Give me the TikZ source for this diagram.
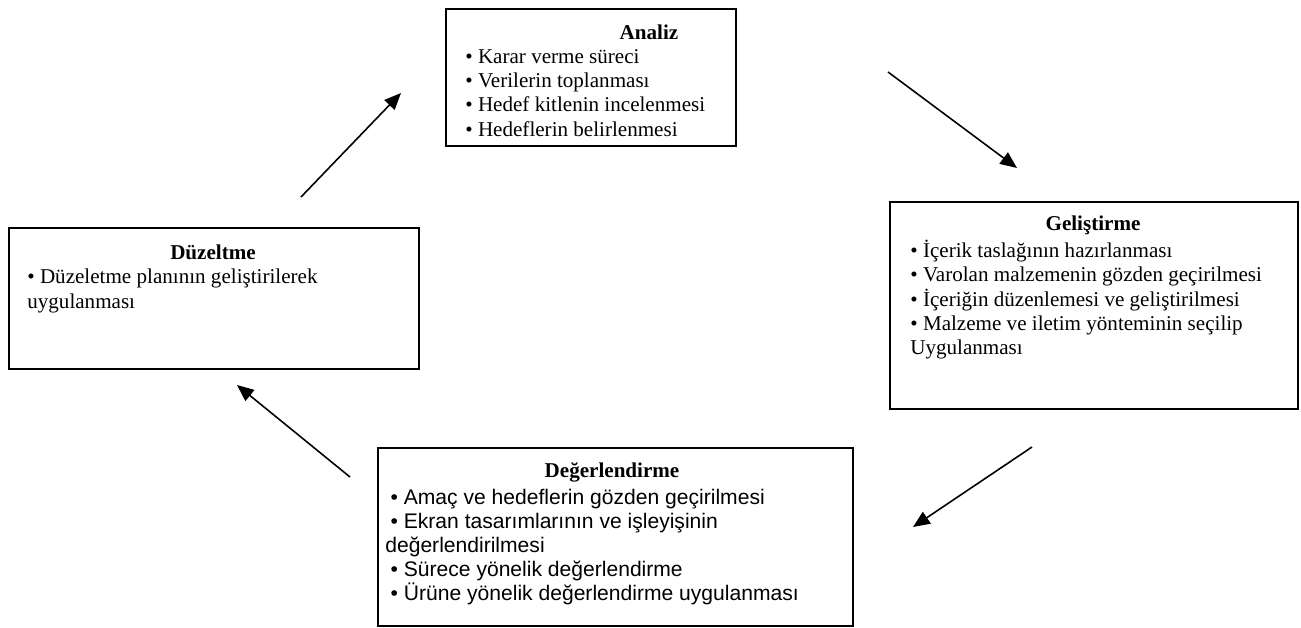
\documentclass[tikz,border=0pt]{standalone}
\usepackage{fontspec}
\setmainfont{Liberation Serif}
\newfontfamily\arialfont{Liberation Sans}
\usetikzlibrary{arrows.meta}

\tikzset{
  phase/.style={draw, line width=1pt, anchor=north west, inner sep=0pt},
  phasetitle/.style={inner sep=0pt, font=\fontsize{12}{13.8}\selectfont\bfseries},
  phaseitems/.style={anchor=north west, align=left, inner sep=0pt, font=\fontsize{12}{13.8}\selectfont},
  cyclearrow/.style={line width=0.9pt, -{Triangle[length=9.5pt,width=8pt]}}
}
\newcommand{\arialbullet}{\hspace*{3pt}• }

\begin{document}
\begin{tikzpicture}[x=0.02cm, y=-0.02cm]
\useasboundingbox (0,0) rectangle (1301,628);

% Draw boxes
\node[phase, minimum width=5.8cm, minimum height=2.74cm] (analiz) at (445,8) {};
\node[phase, minimum width=8.16cm, minimum height=4.14cm] (gelistirme) at (889,201) {};
\node[phase, minimum width=9.5cm, minimum height=3.56cm] (degerlendirme) at (377,447) {};
\node[phase, minimum width=8.2cm, minimum height=2.82cm] (duzeltme) at (8,227) {};

% Titles
\node[phasetitle] (analiztitle) at (649,32) {Analiz};
\node[phasetitle] (gelistirmetitle) at (1093,225) {Geliştirme};
\node[phasetitle] (degerlendirmetitle) at (612,472) {Değerlendirme};
\node[phasetitle] (duzeltmetitle) at (213,252) {Düzeltme};

% Items
\node[phaseitems] (analizitems) at (465,49) {• Karar verme süreci\\• Verilerin toplanması\\• Hedef kitlenin incelenmesi\\• Hedeflerin belirlenmesi};
\node[phaseitems] (gelistirmeitems) at (910,240) {• İçerik taslağının hazırlanması\\• Varolan malzemenin gözden geçirilmesi\\• İçeriğin düzenlemesi ve geliştirilmesi\\• Malzeme ve iletim yönteminin seçilip\\Uygulanması};
\node[phaseitems, font=\arialfont\fontsize{12}{13.6}\selectfont] (degerlendirmeitems) at (385,489) {\arialbullet Amaç ve hedeflerin gözden geçirilmesi\\\arialbullet Ekran tasarımlarının ve işleyişinin\\değerlendirilmesi\\\arialbullet Sürece yönelik değerlendirme\\\arialbullet Ürüne yönelik değerlendirme uygulanması};
\node[phaseitems, font=\fontsize{12}{14.2}\selectfont] (duzeltmeitems) at (27,269) {• Düzeletme planının geliştirilerek\\uygulanması};

% Arrows
\coordinate (a1s) at (301,197);
\coordinate (a1e) at (401,93);
\coordinate (a2s) at (888,72);
\coordinate (a2e) at (1017,168);
\coordinate (a3s) at (1032,447);
\coordinate (a3e) at (913,527);
\coordinate (a4s) at (350,477);
\coordinate (a4e) at (237,385);
\draw[cyclearrow] (a1s) -- (a1e);
\draw[cyclearrow] (a2s) -- (a2e);
\draw[cyclearrow] (a3s) -- (a3e);
\draw[cyclearrow] (a4s) -- (a4e);
\end{tikzpicture}
\end{document}
